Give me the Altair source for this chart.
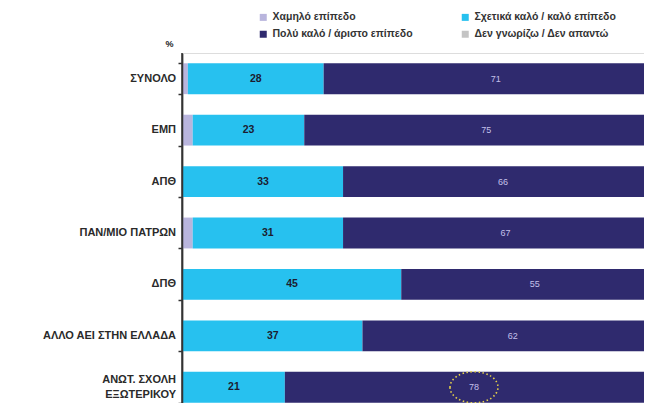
import altair as alt
import pandas as pd

categories = ["ΣΥΝΟΛΟ", "ΕΜΠ", "ΑΠΘ", "ΠΑΝ/ΜΙΟ ΠΑΤΡΩΝ", "ΔΠΘ",
              "ΑΛΛΟ ΑΕΙ ΣΤΗΝ ΕΛΛΑΔΑ", "ΑΝΩΤ. ΣΧΟΛΗ|ΕΞΩΤΕΡΙΚΟΥ"]
series = ["Χαμηλό επίπεδο", "Σχετικά καλό / καλό επίπεδο",
          "Πολύ καλό / άριστο επίπεδο", "Δεν γνωρίζω / Δεν απαντώ"]
low = [1, 2, 0, 2, 0, 0, 0]
good = [28, 23, 33, 31, 45, 37, 21]
excellent = [71, 75, 66, 67, 55, 62, 78]
dont_know = [0, 0, 0, 0, 0, 0, 0]
highlight = ["ΑΝΩΤ. ΣΧΟΛΗ|ΕΞΩΤΕΡΙΚΟΥ"]
series_colors = {"Χαμηλό επίπεδο": "#b9b5dd",
                 "Σχετικά καλό / καλό επίπεδο": "#27c1ef",
                 "Πολύ καλό / άριστο επίπεδο": "#2f2a6e",
                 "Δεν γνωρίζω / Δεν απαντώ": "#c4c4c4"}
# legend fills column by column
legend_order = [series[0], series[2], series[1], series[3]]

rows = []
for i, c in enumerate(categories):
    start = 0
    for k, (s, vals) in enumerate(zip(series, [low, good, excellent, dont_know])):
        v = vals[i]
        rows.append({"cat": c, "series": s, "order": k, "value": v,
                     "start": start, "end": start + v, "mid": start + v / 2,
                     "hl": c in highlight})
        start += v
df = pd.DataFrame(rows)
cat_df = pd.DataFrame({"cat": categories,
                       "multi": ["|" in c for c in categories]})

FONT = "Liberation Sans"

y_scale = alt.Scale(range=[0, 360], paddingInner=0.4, paddingOuter=0.2)
y_axis = alt.Axis(
    title="%", titleAngle=0, titleX=-13, titleY=-5, titleAlign="center",
    titleBaseline="bottom", titleFontSize=9, titleFont=FONT, titleFontWeight="bold",
    titleColor="#222", labelOpacity=0, labelExpr="''",
    ticks=True, tickBand="extent", tickSize=4, tickColor="#333", tickWidth=1.5,
    domain=True, domainColor="#333", domainWidth=1.5, grid=False, zindex=2,
    offset=1,
)
y_enc = alt.Y("cat:N", sort=categories, scale=y_scale, axis=y_axis)
x_scale = alt.Scale(domain=[0, 100], range=[0, 485])

base = alt.Chart(df)

bars = base.mark_bar().encode(
    x=alt.X("start:Q", scale=x_scale, axis=None),
    x2="end:Q",
    y=y_enc,
    color=alt.Color(
        "series:N",
        scale=alt.Scale(domain=legend_order, range=[series_colors[s] for s in legend_order]),
        legend=alt.Legend(
            title=None, orient="none", legendX=75, legendY=-41, columns=2,
            symbolType="square", symbolSize=49, symbolStrokeWidth=0,
            labelFont=FONT, labelFontSize=10.5, labelFontWeight="bold", labelColor="#333",
            labelLimit=300, columnPadding=47, rowPadding=6, labelOffset=4,
        ),
    ),
    order="order:Q",
)

# vertical axis line drawn explicitly so it stays visible
axis_line = alt.Chart(cat_df).transform_filter(alt.datum.multi).mark_rule(
    color="#333", strokeWidth=1.5
).encode(x=alt.value(-1), y=alt.value(0), y2=alt.value(360))

label_style = dict(font=FONT, fontSize=11, fontWeight="bold", color="#2a2a2a",
                   align="right", baseline="middle", dx=-7, lineBreak="|", lineHeight=15)
labels_single = alt.Chart(cat_df).transform_filter(~alt.datum.multi).mark_text(
    **label_style).encode(x=alt.value(0), y=y_enc, text="cat:N")
labels_multi = alt.Chart(cat_df).transform_filter(alt.datum.multi).mark_text(
    dy=-7, **label_style).encode(x=alt.value(0), y=y_enc, text="cat:N")

txt_good = base.transform_filter(
    alt.datum.series == series[1]
).mark_text(font=FONT, fontSize=10.5, fontWeight="bold", color="#1c1c30").encode(
    x=alt.X("mid:Q", scale=x_scale, axis=None), y=y_enc, text="value:Q"
)

txt_exc = base.transform_filter(
    alt.datum.series == series[2]
).mark_text(font=FONT, fontSize=9, color="#c4c0ea").encode(
    x=alt.X("mid:Q", scale=x_scale, axis=None), y=y_enc, text="value:Q"
)

ellipse = base.transform_filter(
    (alt.datum.series == series[2]) & alt.datum.hl
).mark_point(
    shape="M -1 0 A 1 0.65 0 1 0 1 0 A 1 0.65 0 1 0 -1 0 Z",
    size=2304, filled=False, stroke="#e6d24a", strokeWidth=1.6,
    strokeDash=[1.5, 2.5], opacity=1,
).encode(x=alt.X("mid:Q", scale=x_scale, axis=None), y=y_enc)

chart = alt.layer(bars, axis_line, labels_single, labels_multi, txt_good, txt_exc,
                  ellipse).properties(
    width=461, height=350,
    autosize=alt.AutoSizeParams(type="none"),
    padding={"left": 175, "top": 45, "right": 0, "bottom": 0},
).configure_view(stroke=None).configure(background="white")

chart.save("out.html", embed_options={"renderer": "svg", "actions": False})
